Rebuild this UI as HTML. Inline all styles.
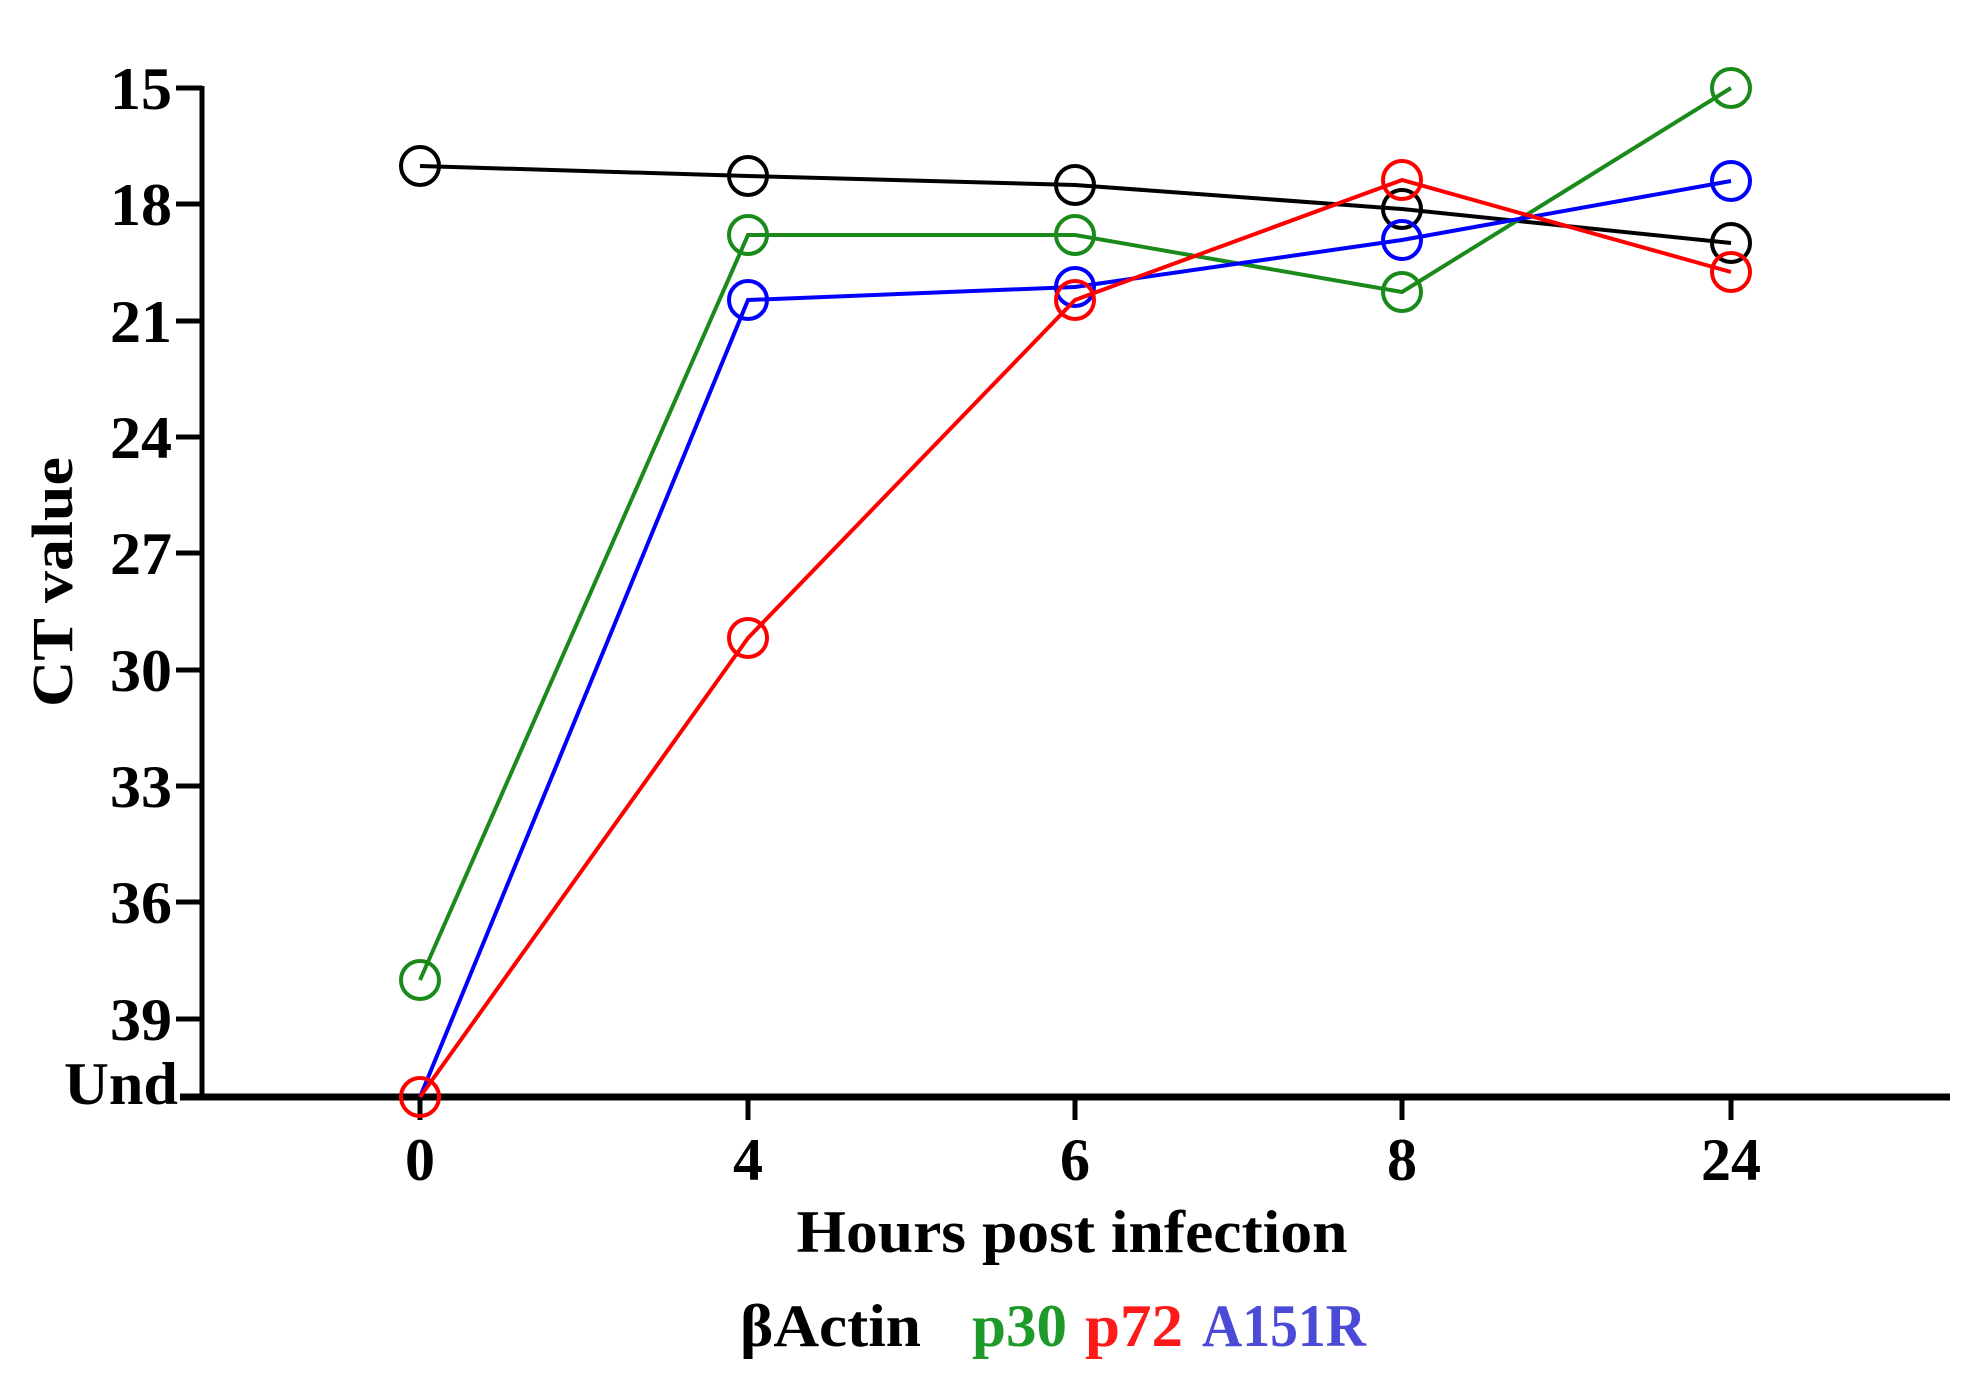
<!DOCTYPE html>
<html><head><style>html,body{margin:0;padding:0;background:#fff}</style></head>
<body>
<svg width="1973" height="1392" viewBox="0 0 1973 1392" xmlns="http://www.w3.org/2000/svg" font-family="'Liberation Serif', serif" font-weight="bold">
<g stroke="#000" stroke-width="5" fill="none">
<line x1="202" y1="86" x2="202" y2="1100"/>
<line x1="180" y1="1097" x2="1950" y2="1097" stroke-width="7"/>
<g stroke-width="5">
<line x1="176" y1="88" x2="202" y2="88"/>
<line x1="176" y1="204" x2="202" y2="204"/>
<line x1="176" y1="321" x2="202" y2="321"/>
<line x1="176" y1="437" x2="202" y2="437"/>
<line x1="176" y1="553" x2="202" y2="553"/>
<line x1="176" y1="670" x2="202" y2="670"/>
<line x1="176" y1="786" x2="202" y2="786"/>
<line x1="176" y1="902" x2="202" y2="902"/>
<line x1="176" y1="1019" x2="202" y2="1019"/>
<line x1="420" y1="1097" x2="420" y2="1120"/>
<line x1="748" y1="1097" x2="748" y2="1120"/>
<line x1="1075" y1="1097" x2="1075" y2="1120"/>
<line x1="1402" y1="1097" x2="1402" y2="1120"/>
<line x1="1731" y1="1097" x2="1731" y2="1120"/>
</g>
</g>
<g font-size="60" text-anchor="end" fill="#000">
<text x="172" y="109" textLength="62" lengthAdjust="spacingAndGlyphs">15</text>
<text x="172" y="225" textLength="62" lengthAdjust="spacingAndGlyphs">18</text>
<text x="172" y="342" textLength="62" lengthAdjust="spacingAndGlyphs">21</text>
<text x="172" y="458" textLength="62" lengthAdjust="spacingAndGlyphs">24</text>
<text x="172" y="574" textLength="62" lengthAdjust="spacingAndGlyphs">27</text>
<text x="172" y="691" textLength="62" lengthAdjust="spacingAndGlyphs">30</text>
<text x="172" y="807" textLength="62" lengthAdjust="spacingAndGlyphs">33</text>
<text x="172" y="923" textLength="62" lengthAdjust="spacingAndGlyphs">36</text>
<text x="172" y="1040" textLength="62" lengthAdjust="spacingAndGlyphs">39</text>
<text x="178" y="1104" textLength="114" lengthAdjust="spacingAndGlyphs">Und</text>
</g>
<g font-size="60" text-anchor="middle" fill="#000">
<text x="420" y="1180">0</text>
<text x="748" y="1180">4</text>
<text x="1075" y="1180">6</text>
<text x="1402" y="1180">8</text>
<text x="1731" y="1180" textLength="60" lengthAdjust="spacingAndGlyphs">24</text>
<text x="1072" y="1252" textLength="551" lengthAdjust="spacingAndGlyphs">Hours post infection</text>
</g>
<text transform="translate(72,582) rotate(-90)" font-size="58" text-anchor="middle" textLength="250" lengthAdjust="spacingAndGlyphs">CT value</text>
<g font-size="60">
<text x="740" y="1346" fill="#000" textLength="181" lengthAdjust="spacingAndGlyphs">βActin</text>
<text x="972" y="1346" fill="#1e9a2a" textLength="95" lengthAdjust="spacingAndGlyphs">p30</text>
<text x="1085" y="1346" fill="#ff1a1a" textLength="98" lengthAdjust="spacingAndGlyphs">p72</text>
<text x="1202" y="1346" fill="#4a4ad6" textLength="164" lengthAdjust="spacingAndGlyphs">A151R</text>
</g>
<g fill="none" stroke-width="4">
<g stroke="#000">
<polyline points="420,166 748,176 1075,185 1402,209 1731,243"/>
<circle cx="420" cy="166" r="19"/><circle cx="748" cy="176" r="19"/><circle cx="1075" cy="185" r="19"/><circle cx="1402" cy="209" r="19"/><circle cx="1731" cy="243" r="19"/>
</g>
<g stroke="#1a8a1a">
<polyline points="420,980 748,235 1075,235 1402,292 1731,88"/>
<circle cx="420" cy="980" r="19"/><circle cx="748" cy="235" r="19"/><circle cx="1075" cy="235" r="19"/><circle cx="1402" cy="292" r="19"/><circle cx="1731" cy="88" r="19"/>
</g>
<g stroke="#0000ff">
<polyline points="420,1097 748,300 1075,287 1402,240 1731,181"/>
<circle cx="748" cy="300" r="19"/><circle cx="1075" cy="287" r="19"/><circle cx="1402" cy="240" r="19"/><circle cx="1731" cy="181" r="19"/>
</g>
<g stroke="#ff0000">
<polyline points="420,1097 748,638 1075,300 1402,180 1731,272"/>
<circle cx="420" cy="1097" r="19"/><circle cx="748" cy="638" r="19"/><circle cx="1075" cy="300" r="19"/><circle cx="1402" cy="180" r="19"/><circle cx="1731" cy="272" r="19"/>
</g>
</g>
</svg>
</body></html>
